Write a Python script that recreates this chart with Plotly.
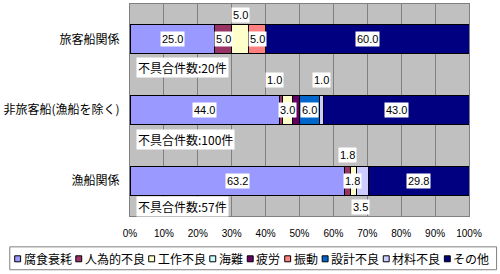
import plotly.graph_objects as go

# ---------------- data ----------------
categories = ["旅客船関係", "非旅客船(漁船を除く)", "漁船関係"]
series_names = ["腐食衰耗", "人為的不良", "工作不良", "海難", "疲労", "振動", "設計不良", "材料不良", "その他"]
v_fushoku = [25.0, 44.0, 63.2]
v_jinni = [5.0, 1.0, 1.8]
v_kousaku = [5.0, 3.0, 1.8]
v_kainan = [0.0, 0.0, 0.0]
v_hirou = [0.0, 2.0, 0.0]
v_shindou = [5.0, 0.0, 0.0]
v_sekkei = [0.0, 6.0, 0.0]
v_zairyou = [0.0, 1.0, 3.5]
v_sonota = [60.0, 43.0, 29.8]
counts = [20, 100, 57]
x_ticks = [0, 10, 20, 30, 40, 50, 60, 70, 80, 90, 100]

series_values = [v_fushoku, v_jinni, v_kousaku, v_kainan, v_hirou,
                 v_shindou, v_sekkei, v_zairyou, v_sonota]

# ---------------- styles ----------------
colors = ["#9999FF", "#993366", "#FFFFCC", "#CCFFFF", "#660066",
          "#FF8080", "#0066CC", "#CCCCFF", "#000080"]
JP = "Noto Sans CJK JP"
AR = "Liberation Sans, Arial"

# plot area in pixels (for paper-coordinate conversions)
L, R, T, B = 125, 469, 3, 216
W, H = 500, 274


def px_x(px):
    return (px - L) / (R - L)


def px_y(py):
    return (B - py) / (B - T)


fig = go.Figure()
for name, vals, col in zip(series_names, series_values, colors):
    fig.add_trace(go.Bar(
        y=categories, x=vals, name=name, orientation="h",
        marker=dict(color=col, line=dict(color="#000000", width=1)),
        showlegend=False,
    ))

# data labels (label offsets in pixels are style)
label_shift = {
    (0, 2): (0, 24),
    (1, 1): (-6, 30),
    (1, 7): (0, 30),
    (2, 1): (5, 0),
    (2, 2): (-6, 26),
    (2, 7): (-2, -26),
}
hidden = {(1, 4)}
annotations = []
for ci, cat in enumerate(categories):
    cum = 0.0
    for si, vals in enumerate(series_values):
        v = vals[ci]
        if v > 0 and (ci, si) not in hidden:
            dx, dy = label_shift.get((ci, si), (0, 0))
            annotations.append(dict(
                x=cum + v / 2, y=cat, xref="x", yref="y",
                text=f"{v:.1f}", showarrow=False,
                font=dict(family=AR, size=11, color="#000000"),
                bgcolor="#FFFFFF", borderpad=1,
                xshift=dx, yshift=dy,
            ))
        cum += v
    # count annotation under each bar
    annotations.append(dict(
        x=0, y=cat, xref="x", yref="y", xanchor="left",
        text=f"不具合件数:{counts[ci]}件", showarrow=False,
        font=dict(family=JP, size=12, color="#000000"),
        bgcolor="#FFFFFF", borderpad=1,
        xshift=6, yshift=[-28, -29, -26][ci],
    ))

# manual legend
shapes = [dict(type="rect", xref="paper", yref="paper",
               x0=px_x(3), x1=px_x(497), y0=px_y(247), y1=px_y(270),
               line=dict(color="#808080", width=1), fillcolor="#FFFFFF",
               layer="below")]
cx = 8
cy = 259
fs = 12
for name, col in zip(series_names, colors):
    shapes.append(dict(type="rect", xref="paper", yref="paper",
                       x0=px_x(cx), x1=px_x(cx + 6),
                       y0=px_y(cy - 3), y1=px_y(cy + 3),
                       line=dict(color="#000000", width=1), fillcolor=col))
    annotations.append(dict(
        x=px_x(cx + 8), y=px_y(cy), xref="paper", yref="paper",
        xanchor="left", yanchor="middle", text=name, showarrow=False,
        font=dict(family=JP, size=fs, color="#000000"), borderpad=0,
    ))
    cx += 8 + 2 + len(name) * fs + 4

fig.update_layout(
    barmode="stack",
    bargap=0.59,
    width=W, height=H,
    margin=dict(l=L, r=W - R, t=T, b=H - B, pad=0),
    paper_bgcolor="#FFFFFF",
    plot_bgcolor="#C0C0C0",
    showlegend=False,
    annotations=annotations,
    shapes=shapes,
    xaxis=dict(
        range=[0, 100], tickvals=x_ticks,
        ticktext=[f"{t}%" for t in x_ticks],
        showgrid=True, gridcolor="#808080", gridwidth=1,
        zeroline=False, showline=True, linecolor="#808080", mirror=True,
        ticks="outside", ticklen=8, tickcolor="rgba(0,0,0,0)",
        tickfont=dict(family=AR, size=10, color="#000000"),
    ),
    yaxis=dict(
        type="category", categoryorder="array", categoryarray=categories,
        range=[2.5, -0.5], autorange=False, showgrid=False, zeroline=False,
        showline=True, linecolor="#808080", mirror=True,
        ticks="outside", ticklen=7, tickcolor="rgba(0,0,0,0)",
        tickfont=dict(family=JP, size=12, color="#000000"),
    ),
)

fig.write_html("out.html")
